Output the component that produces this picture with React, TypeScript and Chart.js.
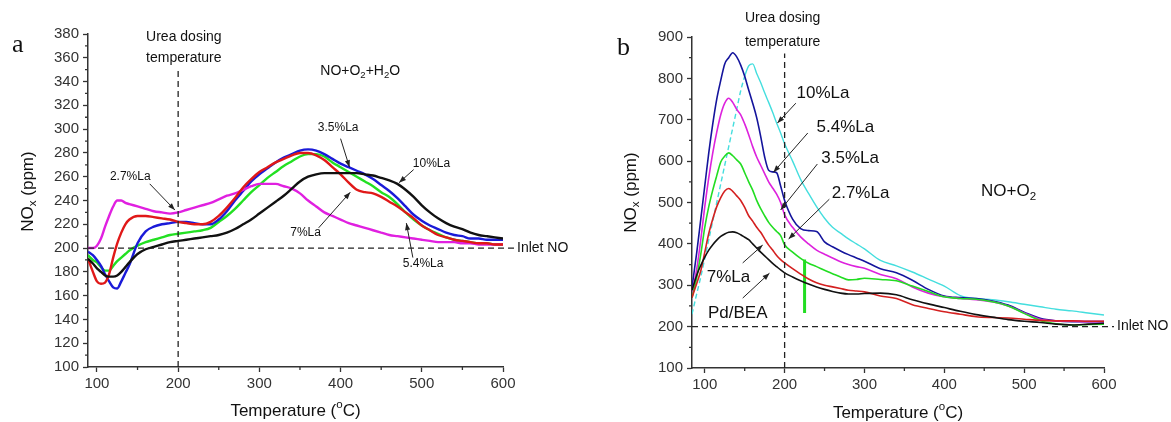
import React, { useEffect, useRef } from 'react';
import { Chart, registerables } from 'chart.js';
Chart.register(...registerables);

const FONT = "'Liberation Sans', Arial, Helvetica, sans-serif";
const SERIF = "'Liberation Serif', 'Times New Roman', serif";

// ---------------- Panel a (NO + O2 + H2O) ----------------
const aTemps = [89, 95, 100, 105, 110, 115, 120, 125, 130, 135, 140, 150, 160, 170, 180, 190, 200, 210, 220, 230, 240, 250, 260, 270, 280, 290, 300, 310, 320, 330, 340, 350, 360, 370, 380, 390, 400, 410, 420, 430, 440, 450, 460, 470, 480, 490, 500, 510, 520, 530, 540, 550, 560, 570, 580, 590, 600];
const aBlack = [191, 187, 183, 180, 177, 176, 176, 177, 180, 184, 188, 195, 199, 201, 203, 205, 206, 207, 208, 209, 210, 211, 213, 216, 220, 224, 229, 234, 239, 244, 250, 256, 260, 262, 263, 263, 263, 263, 263, 262, 261, 259, 257, 254, 249, 243, 236, 230, 225, 221, 218, 216, 213, 211, 210, 209, 208];
const aRed = [191, 180, 172, 170, 171, 178, 192, 204, 213, 220, 224, 227, 227, 226, 225, 224, 222, 221, 220, 220, 222, 227, 234, 242, 251, 258, 264, 268, 272, 275, 278, 280, 280, 278, 274, 268, 262, 255, 249, 247, 246, 243, 239, 235, 230, 225, 219, 215, 211, 209, 207, 206, 205, 204, 204, 203, 203];
const aBlue = [197, 194, 190, 185, 178, 172, 167, 166, 172, 179, 186, 204, 214, 218, 220, 221, 222, 222, 221, 220, 220, 224, 231, 240, 248, 256, 262, 267, 272, 276, 279, 282, 283, 282, 279, 275, 271, 268, 265, 262, 258, 253, 248, 242, 235, 228, 223, 219, 216, 213, 211, 210, 208, 208, 207, 207, 207];
const aGreen = [194, 190, 188, 184, 181, 181, 185, 189, 192, 195, 198, 202, 205, 207, 209, 211, 212, 213, 214, 215, 217, 222, 227, 233, 240, 247, 253, 259, 264, 269, 273, 277, 279, 279, 277, 272, 268, 264, 260, 256, 252, 247, 243, 237, 230, 224, 219, 215, 212, 209, 207, 206, 205, 204, 204, 203, 203];
const aMagenta = [200, 200, 202, 208, 218, 227, 235, 240, 240, 238, 237, 235, 233, 231, 230, 229, 230, 232, 234, 236, 238, 241, 244, 246, 249, 252, 254, 254, 254, 252, 250, 246, 240, 235, 230, 227, 224, 221, 219, 217, 215, 213, 211, 210, 209, 208, 207, 206, 205, 205, 205, 204, 204, 203, 203, 203, 203];
const aXTicks = [100, 200, 300, 400, 500, 600];
const aXMinor = [150, 250, 350, 450, 550];
const aYMinor = [110, 130, 150, 170, 190, 210, 230, 250, 270, 290, 310, 330, 350, 370];

// ---------------- Panel b (NO + O2) ----------------
const bTemps = [84, 90, 95, 100, 105, 110, 115, 120, 125, 130, 135, 140, 145, 150, 155, 160, 165, 170, 175, 180, 185, 190, 195, 200, 210, 220, 230, 240, 250, 260, 270, 280, 290, 300, 320, 340, 360, 380, 400, 420, 440, 460, 480, 500, 520, 540, 560, 580, 600];
const bBlack = [288, 325, 348, 368, 385, 398, 409, 418, 424, 428, 429, 427, 422, 416, 410, 400, 390, 380, 371, 362, 353, 345, 337, 330, 320, 311, 303, 296, 290, 285, 281, 279, 279, 280, 281, 277, 265, 255, 246, 237, 229, 223, 217, 213, 210, 206, 204, 206, 208];
const bRed = [270, 305, 335, 380, 425, 460, 490, 512, 528, 534, 527, 516, 505, 488, 468, 455, 440, 428, 412, 397, 385, 372, 362, 354, 340, 327, 315, 306, 300, 296, 292, 288, 286, 284, 274, 268, 253, 244, 236, 230, 224, 222, 221, 218, 215, 214, 214, 213, 213];
const bGreen = [270, 320, 375, 440, 490, 530, 565, 598, 612, 620, 613, 603, 593, 572, 550, 530, 505, 485, 468, 452, 440, 430, 420, 398, 380, 365, 353, 345, 336, 328, 320, 313, 314, 317, 314, 311, 298, 285, 272, 268, 266, 260, 250, 232, 215, 207, 204, 205, 206];
const bMagenta = [280, 340, 410, 490, 560, 620, 670, 712, 740, 752, 742, 725, 712, 690, 664, 635, 610, 590, 570, 550, 535, 520, 500, 470, 440, 417, 400, 385, 375, 366, 357, 350, 345, 341, 326, 316, 296, 281, 272, 268, 265, 260, 250, 233, 218, 214, 213, 212, 212];
const bNavy = [295, 380, 460, 540, 620, 690, 750, 795, 835, 850, 862, 852, 832, 805, 772, 740, 705, 660, 610, 578, 574, 572, 540, 505, 460, 437, 432, 430, 405, 393, 383, 374, 366, 358, 340, 330, 312, 290, 274, 270, 268, 262, 252, 235, 220, 214, 212, 212, 212];
const bCyan = [230, 280, 320, 365, 410, 455, 500, 545, 590, 635, 680, 725, 770, 805, 830, 835, 812, 790, 765, 742, 718, 692, 668, 642, 600, 556, 522, 490, 462, 440, 426, 412, 400, 388, 360, 347, 332, 315, 298, 275, 268, 265, 260, 254, 248, 242, 238, 233, 228];
const bSpikeTemps = [225, 225];
const bSpikeVals = [362, 233];
const bXTicks = [100, 200, 300, 400, 500, 600];
const bXMinor = [150, 250, 350, 450, 550];
const bYMinor = [150, 250, 350, 450, 550, 650, 750, 850];

type Part = { t: string; s?: number };

function richWidth(ctx: CanvasRenderingContext2D, parts: Part[], size: number) {
  let w = 0;
  for (const p of parts) {
    const fs = p.s ? size * 0.68 : size;
    ctx.font = `${fs}px ${FONT}`;
    w += ctx.measureText(p.t).width;
  }
  return w;
}

function drawRich(ctx: CanvasRenderingContext2D, parts: Part[], x: number, y: number, size: number, align: 'left' | 'center') {
  const w = richWidth(ctx, parts, size);
  let cx = align === 'center' ? x - w / 2 : x;
  ctx.textAlign = 'left';
  ctx.textBaseline = 'middle';
  for (const p of parts) {
    const fs = p.s ? size * 0.68 : size;
    ctx.font = `${fs}px ${FONT}`;
    const dy = p.s === 1 ? size * 0.3 : p.s === -1 ? -size * 0.38 : 0;
    ctx.fillText(p.t, cx, y + dy);
    cx += ctx.measureText(p.t).width;
  }
}

function arrow(ctx: CanvasRenderingContext2D, x1: number, y1: number, x2: number, y2: number) {
  ctx.beginPath();
  ctx.moveTo(x1, y1);
  ctx.lineTo(x2, y2);
  ctx.stroke();
  const a = Math.atan2(y2 - y1, x2 - x1);
  const L = 7, H = 2.6;
  ctx.beginPath();
  ctx.moveTo(x2, y2);
  ctx.lineTo(x2 - L * Math.cos(a) + H * Math.sin(a), y2 - L * Math.sin(a) - H * Math.cos(a));
  ctx.lineTo(x2 - L * Math.cos(a) - H * Math.sin(a), y2 - L * Math.sin(a) + H * Math.cos(a));
  ctx.closePath();
  ctx.fill();
}

type Label = { text: string; x: number; y: number; ax1: number; ay1: number; ax2: number; ay2: number };

type PanelCfg = {
  letter: string;
  letterX: number;
  letterY: number;
  xMinor: number[];
  yMinor: number[];
  ureaTop: number;
  ureaX: number;
  ureaY1: number;
  ureaY2: number;
  condParts: Part[];
  condX: number;
  condY: number;
  condSize: number;
  labels: Label[];
  labelSize: number;
  yTitleDx: number;
  yTitleDy: number;
  xTitleDy: number;
  inletDx: number;
};

function annotPlugin(cfg: PanelCfg) {
  return {
    id: 'annot',
    afterDraw(chart: any) {
      const ctx: CanvasRenderingContext2D = chart.ctx;
      const xs = chart.scales.x;
      const ys = chart.scales.y;
      const X = (v: number) => xs.getPixelForValue(v);
      const Y = (v: number) => ys.getPixelForValue(v);
      const ca = chart.chartArea;
      ctx.save();
      // minor ticks
      ctx.strokeStyle = '#333';
      ctx.lineWidth = 1.3;
      ctx.beginPath();
      for (const v of cfg.xMinor) {
        const px = X(v);
        ctx.moveTo(px, ca.bottom);
        ctx.lineTo(px, ca.bottom + 3);
      }
      for (const v of cfg.yMinor) {
        const py = Y(v);
        ctx.moveTo(ca.left - 3, py);
        ctx.lineTo(ca.left, py);
      }
      ctx.stroke();
      // dashed reference lines
      ctx.strokeStyle = '#222';
      ctx.lineWidth = 1.3;
      ctx.setLineDash([6, 4]);
      ctx.beginPath();
      ctx.moveTo(ca.left, Y(200));
      ctx.lineTo(ca.right + cfg.inletDx - 3, Y(200));
      ctx.stroke();
      ctx.beginPath();
      ctx.moveTo(X(200), ca.bottom);
      ctx.lineTo(X(200), Y(cfg.ureaTop));
      ctx.stroke();
      ctx.setLineDash([]);
      ctx.fillStyle = '#111';
      // Inlet NO
      drawRich(ctx, [{ t: 'Inlet NO' }], ca.right + cfg.inletDx, Y(200), 14, 'left');
      // Urea dosing temperature
      drawRich(ctx, [{ t: 'Urea dosing' }], X(cfg.ureaX), Y(cfg.ureaY1), 14, 'center');
      drawRich(ctx, [{ t: 'temperature' }], X(cfg.ureaX), Y(cfg.ureaY2), 14, 'center');
      // condition
      drawRich(ctx, cfg.condParts, X(cfg.condX), Y(cfg.condY), cfg.condSize, 'left');
      // labels with arrows
      ctx.strokeStyle = '#222';
      ctx.fillStyle = '#222';
      ctx.lineWidth = 1;
      for (const l of cfg.labels) {
        ctx.fillStyle = '#111';
        drawRich(ctx, [{ t: l.text }], X(l.x), Y(l.y), cfg.labelSize, 'left');
        ctx.fillStyle = '#222';
        arrow(ctx, X(l.ax1), Y(l.ay1), X(l.ax2), Y(l.ay2));
      }
      // axis titles
      ctx.fillStyle = '#111';
      const midX = (ca.left + ca.right) / 2;
      const midY = (ca.top + ca.bottom) / 2;
      drawRich(ctx, [{ t: 'Temperature (' }, { t: 'o', s: -1 }, { t: 'C)' }], midX, ca.bottom + cfg.xTitleDy, 17, 'center');
      ctx.save();
      ctx.translate(ca.left - cfg.yTitleDx, midY + cfg.yTitleDy);
      ctx.rotate(-Math.PI / 2);
      drawRich(ctx, [{ t: 'NO' }, { t: 'x', s: 1 }, { t: ' (ppm)' }], 0, 0, 17, 'center');
      ctx.restore();
      // panel letter
      ctx.font = `26px ${SERIF}`;
      ctx.textAlign = 'left';
      ctx.textBaseline = 'alphabetic';
      ctx.fillText(cfg.letter, cfg.letterX, cfg.letterY);
      ctx.restore();
    },
  };
}

function ds(label: string, temps: number[], vals: number[], color: string, width: number, extra: any = {}) {
  return {
    label,
    data: temps.map((t, i) => ({ x: t, y: vals[i] })),
    borderColor: color,
    backgroundColor: color,
    borderWidth: width,
    pointRadius: 0,
    fill: false,
    cubicInterpolationMode: 'monotone',
    ...extra,
  };
}

function scalesFor(xMin: number, xTicks: number[], yMin: number, yMax: number, yStep: number, yWidth: number, xHeight: number) {
  const tickFont = { family: FONT, size: 15 };
  return {
    x: {
      type: 'linear',
      min: xMin,
      max: 600,
      afterBuildTicks: (s: any) => {
        s.ticks = xTicks.map((v) => ({ value: v }));
      },
      afterFit: (s: any) => {
        s.height = xHeight;
      },
      ticks: { color: '#333', font: tickFont, padding: 3, maxRotation: 0, autoSkip: false },
      grid: { drawOnChartArea: false, drawTicks: true, tickLength: 5, tickColor: '#333', tickWidth: 1.3 },
      border: { display: true, color: '#333', width: 1.5 },
    },
    y: {
      type: 'linear',
      min: yMin,
      max: yMax,
      ticks: { stepSize: yStep, color: '#333', font: tickFont, padding: 4 },
      afterFit: (s: any) => {
        s.width = yWidth;
      },
      grid: { drawOnChartArea: false, drawTicks: true, tickLength: 5, tickColor: '#333', tickWidth: 1.3 },
      border: { display: true, color: '#333', width: 1.5 },
    },
  };
}

const panelA: PanelCfg = {
  letter: 'a',
  letterX: 12,
  letterY: 52,
  xMinor: aXMinor,
  yMinor: aYMinor,
  ureaTop: 350,
  ureaX: 207,
  ureaY1: 377,
  ureaY2: 360,
  condParts: [{ t: 'NO+O' }, { t: '2', s: 1 }, { t: '+H' }, { t: '2', s: 1 }, { t: 'O' }],
  condX: 375,
  condY: 349,
  condSize: 14,
  labelSize: 12,
  labels: [
    { text: '3.5%La', x: 372, y: 301, ax1: 400, ay1: 292, ax2: 411, ay2: 268 },
    { text: '10%La', x: 489, y: 271, ax1: 490, ay1: 266, ax2: 472, ay2: 255 },
    { text: '2.7%La', x: 116, y: 260, ax1: 165, ay1: 254, ax2: 196, ay2: 232 },
    { text: '7%La', x: 338, y: 212.6, ax1: 373, ay1: 217, ax2: 412, ay2: 247 },
    { text: '5.4%La', x: 476.5, y: 187, ax1: 489, ay1: 192, ax2: 481, ay2: 221 },
  ],
  yTitleDx: 60,
  yTitleDy: -9,
  xTitleDy: 44,
  inletDx: 14,
};

const panelB: PanelCfg = {
  letter: 'b',
  letterX: 27,
  letterY: 55,
  xMinor: bXMinor,
  yMinor: bYMinor,
  ureaTop: 860,
  ureaX: 197.5,
  ureaY1: 946,
  ureaY2: 887,
  condParts: [{ t: 'NO+O' }, { t: '2', s: 1 }],
  condX: 446,
  condY: 527,
  condSize: 17,
  labelSize: 17,
  labels: [
    { text: '10%La', x: 215, y: 764, ax1: 214, ay1: 740, ax2: 191, ay2: 692 },
    { text: '5.4%La', x: 240, y: 682, ax1: 229, ay1: 668, ax2: 186, ay2: 573 },
    { text: '3.5%La', x: 246, y: 607, ax1: 241, ay1: 593, ax2: 195, ay2: 482 },
    { text: '2.7%La', x: 259, y: 523, ax1: 256, ay1: 508, ax2: 205, ay2: 412 },
    { text: '7%La', x: 102.5, y: 320, ax1: 147.5, ay1: 354, ax2: 172.5, ay2: 397 },
    { text: 'Pd/BEA', x: 104, y: 233, ax1: 147.5, ay1: 269, ax2: 181, ay2: 329 },
  ],
  yTitleDx: 61,
  yTitleDy: -10,
  xTitleDy: 45,
  inletDx: 13,
};

function Panel(props: { left: number; width: number; build: () => any }) {
  const ref = useRef<HTMLCanvasElement | null>(null);
  useEffect(() => {
    if (!ref.current) return;
    const chart = new Chart(ref.current, props.build());
    return () => chart.destroy();
  }, []);
  return (
    <canvas
      ref={ref}
      width={props.width}
      height={422}
      style={{ position: 'absolute', left: props.left, top: 0, width: props.width, height: 422 }}
    />
  );
}

function buildA() {
  return {
    type: 'line',
    data: {
      datasets: [
        ds('10%La', aTemps, aBlack, '#111111', 2.4),
        ds('3.5%La', aTemps, aRed, '#e01818', 2.4),
        ds('2.7%La', aTemps, aMagenta, '#e020e0', 2.4),
        ds('blue', aTemps, aBlue, '#1a1ad8', 2.4),
        ds('5.4%La', aTemps, aGreen, '#22e022', 2.4),
      ],
    },
    options: {
      responsive: false,
      animation: false,
      layout: { padding: { left: 0, top: 34, right: 590 - 503, bottom: 0 } },
      plugins: { legend: { display: false }, tooltip: { enabled: false }, title: { display: false } },
      scales: scalesFor(89, aXTicks, 100, 380, 20, 88, 55),
    },
    plugins: [annotPlugin(panelA)],
  };
}

function buildB() {
  const dash = { segment: { borderDash: (c: any) => (c.p1.parsed.x <= 152 ? [5, 3] : undefined) } };
  return {
    type: 'line',
    data: {
      datasets: [
        ds('Pd/BEA', bTemps, bBlack, '#111111', 1.6),
        ds('7%La', bTemps, bRed, '#d42020', 1.6),
        ds('spike', bSpikeTemps, bSpikeVals, '#22dd22', 3, { cubicInterpolationMode: 'default' }),
        ds('2.7%La', bTemps, bGreen, '#22dd22', 1.6),
        ds('3.5%La', bTemps, bMagenta, '#dd22dd', 1.6),
        ds('5.4%La', bTemps, bNavy, '#14149c', 1.6),
        ds('10%La', bTemps, bCyan, '#44dede', 1.4, dash),
      ],
    },
    options: {
      responsive: false,
      animation: false,
      layout: { padding: { left: 0, top: 37, right: 581 - 514, bottom: 0 } },
      plugins: { legend: { display: false }, tooltip: { enabled: false }, title: { display: false } },
      scales: scalesFor(84, bXTicks, 100, 900, 100, 102, 54),
    },
    plugins: [annotPlugin(panelB)],
  };
}

export default function App() {
  return (
    <div style={{ position: 'absolute', left: 0, top: 0, width: 1171, height: 422, background: '#fff', overflow: 'hidden' }}>
      <Panel left={0} width={590} build={buildA} />
      <Panel left={590} width={581} build={buildB} />
    </div>
  );
}
